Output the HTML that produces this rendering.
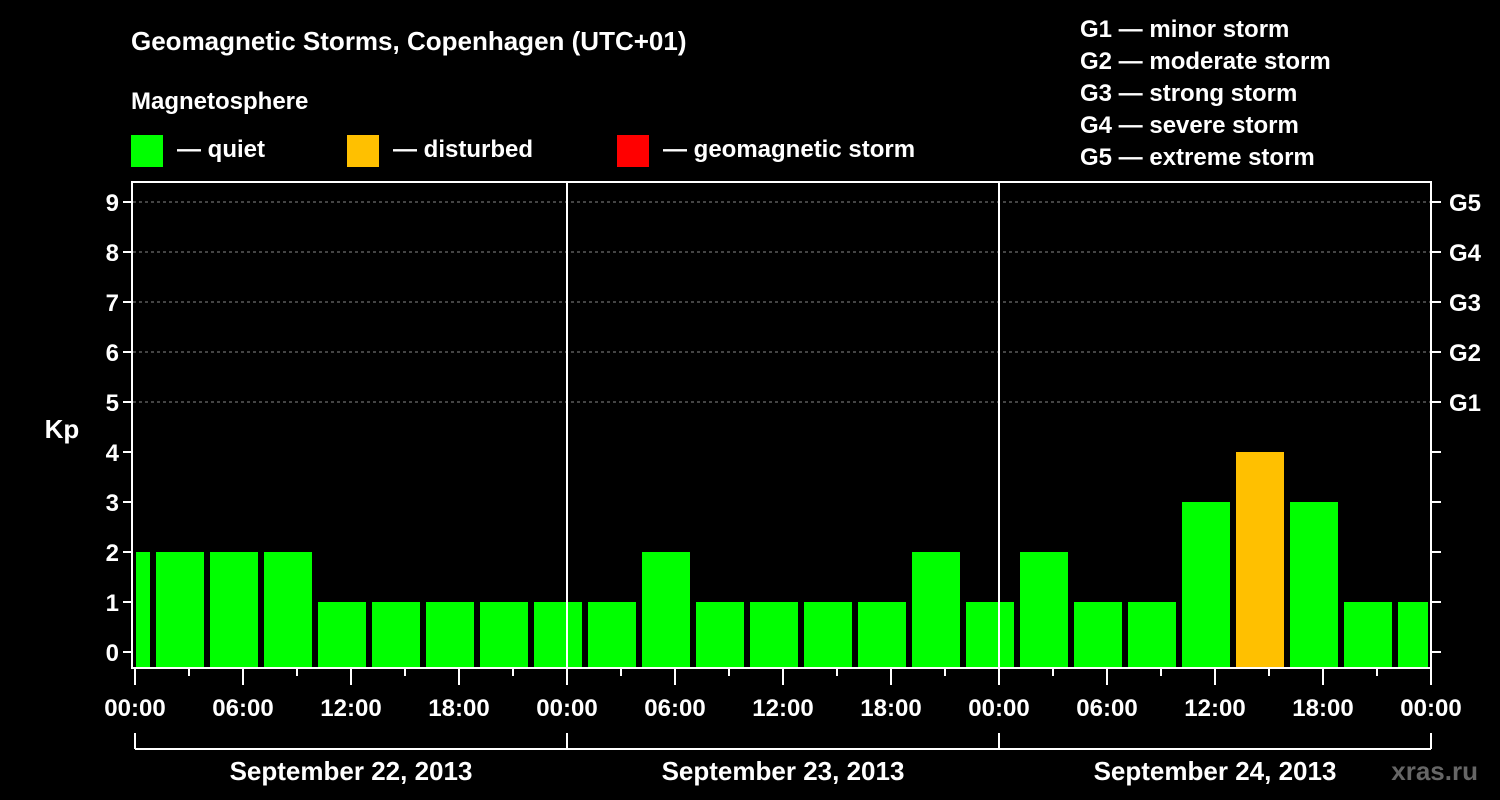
<!DOCTYPE html>
<html><head><meta charset="utf-8"><style>
body{margin:0;background:#000;}
svg{display:block;font-family:"Liberation Sans",Arial,sans-serif;font-weight:bold;}
</style></head><body>
<svg id="chart" width="1500" height="800" viewBox="0 0 1500 800">
<rect width="1500" height="800" fill="#000"/>
<text x="131" y="50" fill="#fff" font-size="26">Geomagnetic Storms, Copenhagen (UTC+01)</text>
<text x="131" y="109" fill="#fff" font-size="24">Magnetosphere</text>
<g><rect x="131" y="135" width="32" height="32" fill="#00ff00"/><text x="177" y="157" fill="#fff" font-size="24">— quiet</text></g>
<g><rect x="347" y="135" width="32" height="32" fill="#ffc000"/><text x="393" y="157" fill="#fff" font-size="24">— disturbed</text></g>
<g><rect x="617" y="135" width="32" height="32" fill="#ff0000"/><text x="663" y="157" fill="#fff" font-size="24">— geomagnetic storm</text></g>
<g fill="#fff" font-size="24">
<text x="1080" y="37">G1 — minor storm</text>
<text x="1080" y="69">G2 — moderate storm</text>
<text x="1080" y="101">G3 — strong storm</text>
<text x="1080" y="133">G4 — severe storm</text>
<text x="1080" y="165">G5 — extreme storm</text>
</g>
<text x="62" y="438" fill="#fff" font-size="26" text-anchor="middle">Kp</text>
<text x="1478" y="780" fill="#666" font-size="26" text-anchor="end">xras.ru</text>
<g id="grid"></g><g id="bars"></g><g id="axes"></g>
</svg>
<script>
const kpValues=[2,2,2,2,1,1,1,1,1,1,2,1,1,1,1,2,1,2,1,1,3,4,3,1,1];
const yTicks=[0,1,2,3,4,5,6,7,8,9];
const gLabels=["G1","G2","G3","G4","G5"];
const xTickLabels=["00:00","06:00","12:00","18:00","00:00","06:00","12:00","18:00","00:00","06:00","12:00","18:00","00:00"];
const dayLabels=["September 22, 2013","September 23, 2013","September 24, 2013"];
const NS="http://www.w3.org/2000/svg";
const L=133,R=1431,T=182,B=668,X0=135,PXH=18;
const x=h=>X0+h*PXH;
const y=k=>652-k*50;
function mk(p,tag,a){const e=document.createElementNS(NS,tag);for(const k in a)e.setAttribute(k,a[k]);p.appendChild(e);return e;}
const grid=document.getElementById('grid'),bars=document.getElementById('bars'),axes=document.getElementById('axes');
for(let k=5;k<=9;k++){const g=mk(grid,'line',{x1:L,x2:R,y1:y(k),y2:y(k),stroke:'#888','stroke-dasharray':'3,3','stroke-width':1});

}
kpValues.forEach((v,i)=>{
 const s=-2+i*3;let x1=x(s)+3,x2=x(s+3)-3;
 x1=Math.max(x1,L+3);x2=Math.min(x2,R-3);
 const c=v>=5?'#ff0000':(v>=4?'#ffc000':'#00ff00');
 const r=mk(bars,'rect',{x:x1,y:y(v),width:x2-x1,height:B-y(v),fill:c});
 
 
});
for(let d=1;d<3;d++){const l=mk(axes,'line',{x1:x(d*24),x2:x(d*24),y1:T,y2:B,stroke:'#fff','stroke-width':2});

}
const fr=mk(axes,'rect',{x:L-1,y:T,width:R-L+1,height:B-T,fill:'none',stroke:'#fff','stroke-width':2});


yTicks.forEach(k=>{
 mk(axes,'line',{x1:L-10,x2:L,y1:y(k),y2:y(k),stroke:'#fff','stroke-width':2});
 mk(axes,'line',{x1:R,x2:R+10,y1:y(k),y2:y(k),stroke:'#fff','stroke-width':2});
 const t=mk(axes,'text',{x:L-14,y:y(k)+9,fill:'#fff','font-size':24,'text-anchor':'end'});t.textContent=k;
 
 
 if(k>=5){const g=mk(axes,'text',{x:R+18,y:y(k)+9,fill:'#fff','font-size':24});g.textContent=gLabels[k-5];
 
 }
});
for(let h=0;h<=72;h+=3){const maj=h%6==0;
 mk(axes,'line',{x1:x(h),x2:x(h),y1:B,y2:B+(maj?17:8),stroke:'#fff','stroke-width':2});}
xTickLabels.forEach((s,i)=>{const t=mk(axes,'text',{x:x(i*6),y:716,fill:'#fff','font-size':24,'text-anchor':'middle'});t.textContent=s;
 
 });
mk(axes,'line',{x1:x(0),x2:x(72),y1:749,y2:749,stroke:'#fff','stroke-width':2});
for(let d=0;d<=3;d++)mk(axes,'line',{x1:x(d*24),x2:x(d*24),y1:733,y2:749,stroke:'#fff','stroke-width':2});
dayLabels.forEach((s,i)=>{const t=mk(axes,'text',{x:x(i*24+12),y:780,fill:'#fff','font-size':26,'text-anchor':'middle'});t.textContent=s;
 
 });
</script>
</body></html>
